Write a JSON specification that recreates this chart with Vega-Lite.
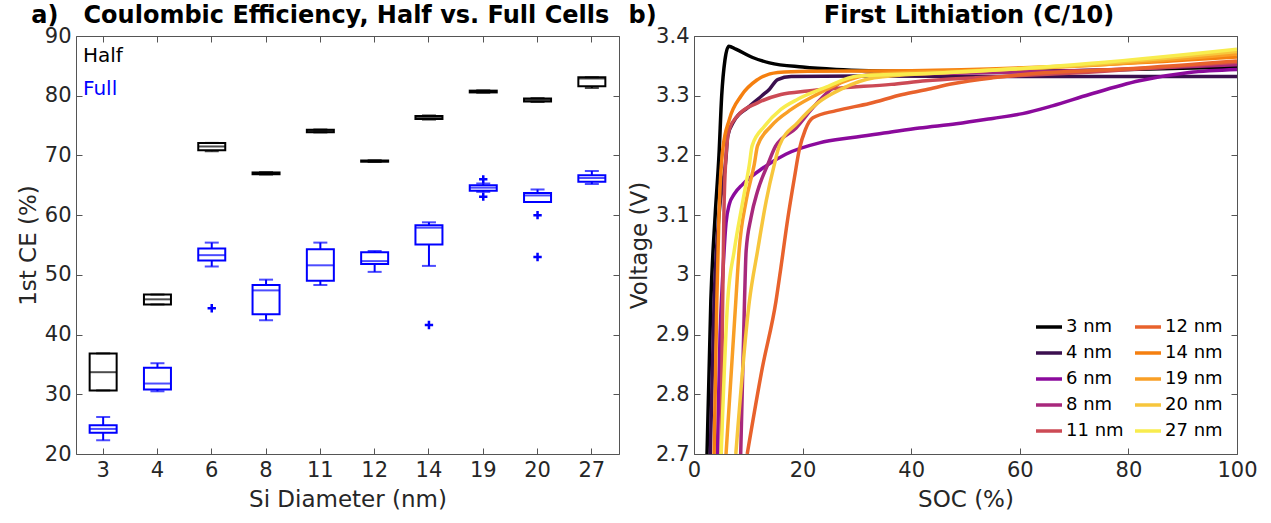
{
  "$schema": "https://vega.github.io/schema/vega-lite/v6.json",
  "padding": {"left": 16, "top": 3, "right": 5, "bottom": 5},
  "spacing": 8,
  "config": {
    "font": "DejaVu Sans",
    "view": {"stroke": "#555", "strokeWidth": 1},
    "axis": {"labelFontSize": 21, "titleFontSize": 23, "labelColor": "#262626", "titleColor": "#262626", "titleFontWeight": "normal", "domain": false, "grid": false, "tickColor": "#555", "tickSize": -6, "labelPadding": 11, "labelFlush": false},
    "axisX": {"labelPadding": 11, "titlePadding": 8},
    "title": {"fontSize": 24, "fontWeight": "bold", "color": "#000"}
  },
  "datasets": {
    "boxes": [
      {"size": 3, "cell": "Half", "lower": 30.65, "q1": 30.65, "median": 33.7, "q3": 36.85, "upper": 36.85},
      {"size": 4, "cell": "Half", "lower": 45.05, "q1": 45.05, "median": 45.9, "q3": 46.7, "upper": 46.7},
      {"size": 6, "cell": "Half", "lower": 70.7, "q1": 70.85, "median": 71.5, "q3": 72.1, "upper": 72.1},
      {"size": 8, "cell": "Half", "lower": 66.8, "q1": 66.85, "median": 67.0, "q3": 67.15, "upper": 67.2},
      {"size": 11, "cell": "Half", "lower": 73.85, "q1": 73.9, "median": 74.1, "q3": 74.3, "upper": 74.35},
      {"size": 12, "cell": "Half", "lower": 68.9, "q1": 68.95, "median": 69.05, "q3": 69.15, "upper": 69.2},
      {"size": 14, "cell": "Half", "lower": 76.0, "q1": 76.1, "median": 76.35, "q3": 76.6, "upper": 76.7},
      {"size": 19, "cell": "Half", "lower": 80.5, "q1": 80.55, "median": 80.7, "q3": 80.85, "upper": 80.9},
      {"size": 20, "cell": "Half", "lower": 78.95, "q1": 79.05, "median": 79.3, "q3": 79.55, "upper": 79.6},
      {"size": 27, "cell": "Half", "lower": 81.3, "q1": 81.6, "median": 82.9, "q3": 83.1, "upper": 83.1},
      {"size": 3, "cell": "Full", "lower": 22.3, "q1": 23.55, "median": 24.2, "q3": 24.8, "upper": 26.2},
      {"size": 4, "cell": "Full", "lower": 30.5, "q1": 30.8, "median": 31.8, "q3": 34.45, "upper": 35.2},
      {"size": 6, "cell": "Full", "lower": 51.4, "q1": 52.4, "median": 53.3, "q3": 54.4, "upper": 55.4},
      {"size": 8, "cell": "Full", "lower": 42.4, "q1": 43.4, "median": 47.4, "q3": 48.3, "upper": 49.2},
      {"size": 11, "cell": "Full", "lower": 48.3, "q1": 49.0, "median": 51.6, "q3": 54.3, "upper": 55.4},
      {"size": 12, "cell": "Full", "lower": 50.5, "q1": 51.8, "median": 52.3, "q3": 53.8, "upper": 54.0},
      {"size": 14, "cell": "Full", "lower": 51.5, "q1": 55.1, "median": 57.9, "q3": 58.3, "upper": 58.8},
      {"size": 19, "cell": "Full", "lower": 63.9, "q1": 64.1, "median": 64.6, "q3": 65.0, "upper": 65.3},
      {"size": 20, "cell": "Full", "lower": 62.2, "q1": 62.2, "median": 63.3, "q3": 63.7, "upper": 64.3},
      {"size": 27, "cell": "Full", "lower": 65.2, "q1": 65.6, "median": 66.2, "q3": 66.7, "upper": 67.4}
    ],
    "outliers": [
      {"size": 6, "cell": "Full", "value": 44.4},
      {"size": 14, "cell": "Full", "value": 41.6},
      {"size": 19, "cell": "Full", "value": 66.0},
      {"size": 19, "cell": "Full", "value": 63.1},
      {"size": 20, "cell": "Full", "value": 60.0},
      {"size": 20, "cell": "Full", "value": 53.0}
    ],
    "curves": [
      {"d": "3 nm", "s": 2.4, "v": 2.7}, {"d": "3 nm", "s": 3.1, "v": 2.956}, {"d": "3 nm", "s": 3.9, "v": 3.1}, {"d": "3 nm", "s": 4.6, "v": 3.2}, {"d": "3 nm", "s": 5.1, "v": 3.3}, {"d": "3 nm", "s": 5.7, "v": 3.36}, {"d": "3 nm", "s": 6.4, "v": 3.383}, {"d": "3 nm", "s": 7.7, "v": 3.378}, {"d": "3 nm", "s": 10.8, "v": 3.364}, {"d": "3 nm", "s": 13.9, "v": 3.355}, {"d": "3 nm", "s": 20, "v": 3.348}, {"d": "3 nm", "s": 26.2, "v": 3.344}, {"d": "3 nm", "s": 32.2, "v": 3.342}, {"d": "3 nm", "s": 50, "v": 3.34}, {"d": "3 nm", "s": 70, "v": 3.342}, {"d": "3 nm", "s": 100, "v": 3.348},
      {"d": "4 nm", "s": 3.0, "v": 2.7}, {"d": "4 nm", "s": 3.7, "v": 2.956}, {"d": "4 nm", "s": 4.6, "v": 3.1}, {"d": "4 nm", "s": 5.9, "v": 3.196}, {"d": "4 nm", "s": 6.2, "v": 3.232}, {"d": "4 nm", "s": 7.4, "v": 3.258}, {"d": "4 nm", "s": 9.9, "v": 3.28}, {"d": "4 nm", "s": 12.5, "v": 3.3}, {"d": "4 nm", "s": 13.9, "v": 3.311}, {"d": "4 nm", "s": 15.4, "v": 3.327}, {"d": "4 nm", "s": 17.9, "v": 3.332}, {"d": "4 nm", "s": 30, "v": 3.333}, {"d": "4 nm", "s": 60, "v": 3.332}, {"d": "4 nm", "s": 100, "v": 3.332},
      {"d": "6 nm", "s": 4.3, "v": 2.7}, {"d": "6 nm", "s": 4.8, "v": 2.9}, {"d": "6 nm", "s": 5.3, "v": 3.0}, {"d": "6 nm", "s": 5.9, "v": 3.087}, {"d": "6 nm", "s": 6.5, "v": 3.118}, {"d": "6 nm", "s": 7.4, "v": 3.135}, {"d": "6 nm", "s": 9.0, "v": 3.152}, {"d": "6 nm", "s": 12.7, "v": 3.179}, {"d": "6 nm", "s": 16.9, "v": 3.202}, {"d": "6 nm", "s": 23.1, "v": 3.221}, {"d": "6 nm", "s": 29.2, "v": 3.23}, {"d": "6 nm", "s": 35.4, "v": 3.238}, {"d": "6 nm", "s": 41.5, "v": 3.246}, {"d": "6 nm", "s": 48.3, "v": 3.253}, {"d": "6 nm", "s": 55, "v": 3.262}, {"d": "6 nm", "s": 60.5, "v": 3.27}, {"d": "6 nm", "s": 66, "v": 3.283}, {"d": "6 nm", "s": 72.8, "v": 3.302}, {"d": "6 nm", "s": 82, "v": 3.325}, {"d": "6 nm", "s": 91.2, "v": 3.339}, {"d": "6 nm", "s": 100, "v": 3.344},
      {"d": "8 nm", "s": 8.6, "v": 2.7}, {"d": "8 nm", "s": 9.3, "v": 2.956}, {"d": "8 nm", "s": 9.6, "v": 3.04}, {"d": "8 nm", "s": 10.5, "v": 3.096}, {"d": "8 nm", "s": 11.7, "v": 3.14}, {"d": "8 nm", "s": 13.6, "v": 3.185}, {"d": "8 nm", "s": 15, "v": 3.215}, {"d": "8 nm", "s": 18.8, "v": 3.246}, {"d": "8 nm", "s": 21.9, "v": 3.28}, {"d": "8 nm", "s": 24.9, "v": 3.308}, {"d": "8 nm", "s": 28, "v": 3.327}, {"d": "8 nm", "s": 33, "v": 3.335}, {"d": "8 nm", "s": 50, "v": 3.338}, {"d": "8 nm", "s": 75, "v": 3.343}, {"d": "8 nm", "s": 100, "v": 3.352},
      {"d": "11 nm", "s": 5.0, "v": 2.7}, {"d": "11 nm", "s": 5.2, "v": 2.9}, {"d": "11 nm", "s": 5.5, "v": 3.1}, {"d": "11 nm", "s": 5.9, "v": 3.2}, {"d": "11 nm", "s": 6.5, "v": 3.244}, {"d": "11 nm", "s": 8.0, "v": 3.266}, {"d": "11 nm", "s": 11.7, "v": 3.288}, {"d": "11 nm", "s": 16, "v": 3.302}, {"d": "11 nm", "s": 20.9, "v": 3.308}, {"d": "11 nm", "s": 27.1, "v": 3.313}, {"d": "11 nm", "s": 36.3, "v": 3.319}, {"d": "11 nm", "s": 42.7, "v": 3.325}, {"d": "11 nm", "s": 51.9, "v": 3.33}, {"d": "11 nm", "s": 70, "v": 3.338}, {"d": "11 nm", "s": 100, "v": 3.356},
      {"d": "12 nm", "s": 9.8, "v": 2.7}, {"d": "12 nm", "s": 12.6, "v": 2.845}, {"d": "12 nm", "s": 15.1, "v": 2.956}, {"d": "12 nm", "s": 16, "v": 3.012}, {"d": "12 nm", "s": 17.3, "v": 3.096}, {"d": "12 nm", "s": 18.5, "v": 3.163}, {"d": "12 nm", "s": 19.4, "v": 3.21}, {"d": "12 nm", "s": 20.5, "v": 3.243}, {"d": "12 nm", "s": 21.9, "v": 3.263}, {"d": "12 nm", "s": 26.2, "v": 3.275}, {"d": "12 nm", "s": 32.3, "v": 3.287}, {"d": "12 nm", "s": 38.4, "v": 3.302}, {"d": "12 nm", "s": 42.7, "v": 3.31}, {"d": "12 nm", "s": 47.6, "v": 3.32}, {"d": "12 nm", "s": 55, "v": 3.33}, {"d": "12 nm", "s": 61.1, "v": 3.336}, {"d": "12 nm", "s": 80, "v": 3.345}, {"d": "12 nm", "s": 100, "v": 3.358},
      {"d": "14 nm", "s": 3.7, "v": 2.7}, {"d": "14 nm", "s": 4.2, "v": 2.956}, {"d": "14 nm", "s": 4.6, "v": 3.1}, {"d": "14 nm", "s": 5.3, "v": 3.21}, {"d": "14 nm", "s": 6.5, "v": 3.26}, {"d": "14 nm", "s": 8.7, "v": 3.3}, {"d": "14 nm", "s": 11.7, "v": 3.327}, {"d": "14 nm", "s": 15.4, "v": 3.339}, {"d": "14 nm", "s": 20.9, "v": 3.341}, {"d": "14 nm", "s": 40, "v": 3.342}, {"d": "14 nm", "s": 70, "v": 3.35}, {"d": "14 nm", "s": 100, "v": 3.365},
      {"d": "19 nm", "s": 5.9, "v": 2.7}, {"d": "19 nm", "s": 7.7, "v": 2.956}, {"d": "19 nm", "s": 8.3, "v": 3.04}, {"d": "19 nm", "s": 9.6, "v": 3.124}, {"d": "19 nm", "s": 11.1, "v": 3.185}, {"d": "19 nm", "s": 11.7, "v": 3.216}, {"d": "19 nm", "s": 14.2, "v": 3.249}, {"d": "19 nm", "s": 17.9, "v": 3.277}, {"d": "19 nm", "s": 22.2, "v": 3.3}, {"d": "19 nm", "s": 27.1, "v": 3.322}, {"d": "19 nm", "s": 33.2, "v": 3.336}, {"d": "19 nm", "s": 50, "v": 3.342}, {"d": "19 nm", "s": 75, "v": 3.352}, {"d": "19 nm", "s": 100, "v": 3.37},
      {"d": "20 nm", "s": 7.7, "v": 2.7}, {"d": "20 nm", "s": 10.2, "v": 2.956}, {"d": "20 nm", "s": 11.7, "v": 3.04}, {"d": "20 nm", "s": 13.3, "v": 3.124}, {"d": "20 nm", "s": 14.8, "v": 3.185}, {"d": "20 nm", "s": 15.7, "v": 3.216}, {"d": "20 nm", "s": 19.1, "v": 3.255}, {"d": "20 nm", "s": 22.8, "v": 3.288}, {"d": "20 nm", "s": 27.1, "v": 3.311}, {"d": "20 nm", "s": 33.2, "v": 3.33}, {"d": "20 nm", "s": 45, "v": 3.338}, {"d": "20 nm", "s": 70, "v": 3.35}, {"d": "20 nm", "s": 100, "v": 3.374},
      {"d": "27 nm", "s": 5.0, "v": 2.7}, {"d": "27 nm", "s": 6.2, "v": 2.956}, {"d": "27 nm", "s": 7.4, "v": 3.04}, {"d": "27 nm", "s": 9.0, "v": 3.124}, {"d": "27 nm", "s": 10.2, "v": 3.185}, {"d": "27 nm", "s": 10.7, "v": 3.216}, {"d": "27 nm", "s": 13, "v": 3.249}, {"d": "27 nm", "s": 16, "v": 3.277}, {"d": "27 nm", "s": 19.1, "v": 3.294}, {"d": "27 nm", "s": 24, "v": 3.313}, {"d": "27 nm", "s": 30.2, "v": 3.333}, {"d": "27 nm", "s": 45, "v": 3.338}, {"d": "27 nm", "s": 70, "v": 3.352}, {"d": "27 nm", "s": 100, "v": 3.378}
    ]
  },
  "resolve": {"scale": {"color": "independent"}, "legend": {"color": "independent"}},
  "hconcat": [
    {
      "width": 543,
      "height": 418,
      "title": {"text": "a)\u00a0\u00a0\u00a0Coulombic Efficiency, Half vs. Full Cells", "anchor": "start", "frame": "bounds", "offset": -3, "dx": 14},
      "resolve": {"axis": {"x": "independent", "y": "independent"}},
      "layer": [
        {
          "encoding": {
            "x": {"field": "size", "type": "ordinal", "scale": {"paddingInner": 0, "paddingOuter": 0}, "axis": {"title": "Si Diameter (nm)", "labelAngle": 0}},
            "color": {"field": "cell", "type": "nominal", "scale": {"domain": ["Half", "Full"], "range": ["#000000", "#0000ff"]},
              "legend": {"title": null, "orient": "top-left", "offset": 10, "symbolOpacity": 0, "symbolSize": 0, "symbolStrokeWidth": 0, "labelOffset": -23, "labelFontSize": 20, "labelColor": {"expr": "datum.label == 'Half' ? '#000000' : '#0000ff'"}, "rowPadding": 13}}
          },
          "layer": [
            {"data": {"name": "boxes"}, "mark": {"type": "rule", "strokeWidth": 2},
              "encoding": {"y": {"field": "lower", "type": "quantitative", "scale": {"domain": [20, 90], "nice": false}, "axis": {"title": "1st CE (%)", "values": [20, 30, 40, 50, 60, 70, 80, 90]}}, "y2": {"field": "q1"}}},
            {"data": {"name": "boxes"}, "mark": {"type": "rule", "strokeWidth": 2},
              "encoding": {"y": {"field": "q3", "type": "quantitative"}, "y2": {"field": "upper"}}},
            {"data": {"name": "boxes"}, "mark": {"type": "bar", "filled": false, "size": 27, "strokeWidth": 2},
              "encoding": {"y": {"field": "q1", "type": "quantitative"}, "y2": {"field": "q3"}}},
            {"data": {"name": "boxes"}, "mark": {"type": "tick", "size": 27, "thickness": 2},
              "encoding": {"y": {"field": "median", "type": "quantitative"}}},
            {"data": {"name": "boxes"}, "mark": {"type": "tick", "size": 14, "thickness": 2},
              "encoding": {"y": {"field": "lower", "type": "quantitative"}}},
            {"data": {"name": "boxes"}, "mark": {"type": "tick", "size": 14, "thickness": 2},
              "encoding": {"y": {"field": "upper", "type": "quantitative"}}},
            {"data": {"name": "outliers"}, "mark": {"type": "point", "shape": "M-1,0H1M0,-1V1", "filled": false, "size": 70, "strokeWidth": 2.5, "opacity": 1},
              "encoding": {"y": {"field": "value", "type": "quantitative"}}}
          ]
        },
        {
          "data": {"name": "outliers"},
          "mark": {"type": "point", "opacity": 0},
          "encoding": {
            "x": {"field": "size", "type": "ordinal", "axis": {"orient": "top", "labels": false, "title": null}},
            "y": {"field": "value", "type": "quantitative", "axis": {"orient": "right", "labels": false, "title": null, "values": [20, 30, 40, 50, 60, 70, 80, 90]}}
          }
        }
      ]
    },
    {
      "width": 543,
      "height": 418,
      "title": {"text": "b)\u00a0\u00a0\u00a0\u00a0\u00a0\u00a0\u00a0\u00a0\u00a0\u00a0\u00a0\u00a0\u00a0\u00a0\u00a0\u00a0\u00a0\u00a0\u00a0\u00a0First Lithiation (C/10)", "anchor": "start", "frame": "bounds", "offset": -3},
      "data": {"name": "curves"},
      "resolve": {"axis": {"x": "independent", "y": "independent"}},
      "layer": [
        {
          "mark": {"type": "line", "strokeWidth": 3.5, "clip": true, "interpolate": "monotone"},
          "encoding": {
            "x": {"field": "s", "type": "quantitative", "scale": {"domain": [0, 100], "nice": false}, "axis": {"title": "SOC (%)", "values": [0, 20, 40, 60, 80, 100]}},
            "y": {"field": "v", "type": "quantitative", "scale": {"domain": [2.7, 3.4], "nice": false}, "axis": {"title": "Voltage (V)", "values": [2.7, 2.8, 2.9, 3.0, 3.1, 3.2, 3.3, 3.4], "format": "~g"}},
            "color": {"field": "d", "type": "nominal",
              "scale": {"domain": ["3 nm", "4 nm", "6 nm", "8 nm", "11 nm", "12 nm", "14 nm", "19 nm", "20 nm", "27 nm"], "range": ["#000000", "#3b0f4f", "#8b0a9c", "#a8287c", "#cc4a55", "#e8622c", "#f57f0f", "#f99f26", "#f7c63c", "#f8ec4e"]},
              "legend": {"title": null, "orient": "bottom-right", "columns": 2, "symbolType": "stroke", "symbolSize": 676, "symbolStrokeWidth": 3.5, "labelFontSize": 18, "labelColor": "#000", "rowPadding": 2, "columnPadding": 4, "padding": 0, "offset": 14, "labelOffset": 2}}
          }
        },
        {
          "mark": {"type": "point", "opacity": 0},
          "encoding": {
            "x": {"field": "s", "type": "quantitative", "axis": {"orient": "top", "labels": false, "title": null, "values": [0, 20, 40, 60, 80, 100]}},
            "y": {"field": "v", "type": "quantitative", "axis": {"orient": "right", "labels": false, "title": null, "values": [2.7, 2.8, 2.9, 3.0, 3.1, 3.2, 3.3, 3.4]}}
          }
        }
      ]
    }
  ]
}
